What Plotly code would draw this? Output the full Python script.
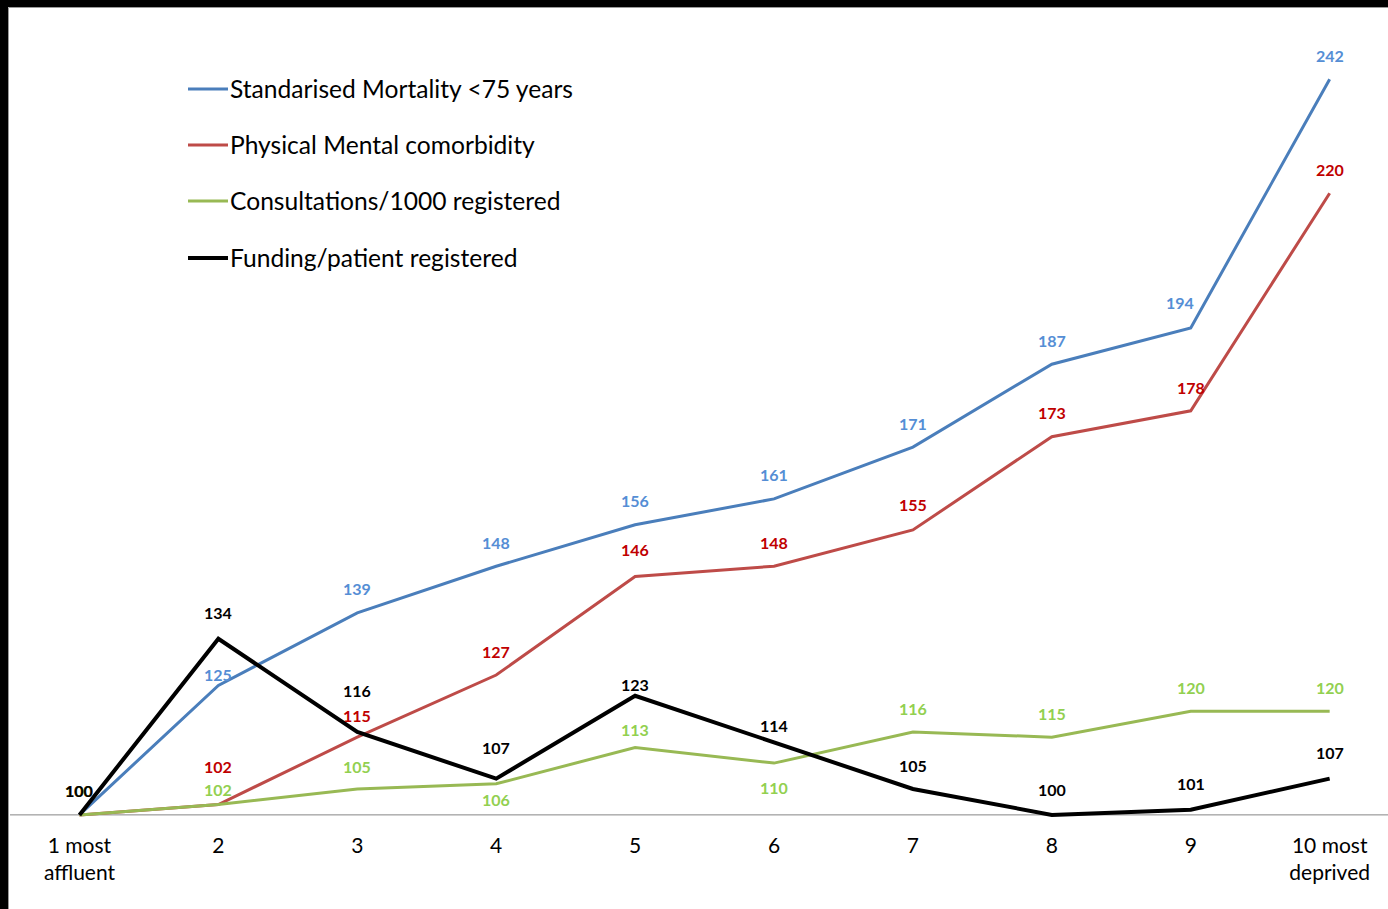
import plotly.graph_objects as go

# Deprivation deciles and index values (decile 1 = 100)
categories = ["1 most<br>affluent", "2", "3", "4", "5", "6", "7", "8", "9", "10 most<br>deprived"]
series_names = [
    "Standarised Mortality <75 years",
    "Physical Mental comorbidity",
    "Consultations/1000 registered",
    "Funding/patient registered",
]
mortality = [100, 125, 139, 148, 156, 161, 171, 187, 194, 242]
comorbidity = [100, 102, 115, 127, 146, 148, 155, 173, 178, 220]
consultations = [100, 102, 105, 106, 113, 110, 116, 115, 120, 120]
funding = [100, 134, 116, 107, 123, 114, 105, 100, 101, 107]

series_values = [mortality, comorbidity, consultations, funding]

# Styling
line_colors = ["#4A7EBB", "#BE4B48", "#98B954", "#000000"]
label_colors = ["#558ED5", "#C00000", "#92D050", "#000000"]
line_widths = [3, 3, 3, 4]
# pixel offsets of each value label from its point (vertical, horizontal)
label_shifts = [
    [24, 11, 24, 24, 24, 24, 24, 24, 25, 24],
    [24, 38, 22, 24, 27, 24, 25, 24, 23, 24],
    [24, 15, 22, -16, 18, -24, 24, 24, 24, 24],
    [24, 26, 42, 31, 11, 17, 23, 25, 26, 26],
]
label_xshifts = [
    [0, 0, 0, 0, 0, 0, 0, 0, -11, 0],
    [0] * 10,
    [0] * 10,
    [0] * 10,
]

FONT = "Lato, 'Open Sans', sans-serif"
W, H = 1388, 909
ML, MR, MT, MB = 10, 0, 15, 91
PLOT_W = W - ML - MR
PLOT_H = H - MT - MB


def px_x(px):
    return (px - ML) / PLOT_W


def px_y(py):
    return (H - MB - py) / PLOT_H


fig = go.Figure()

for name, vals, lc, lw in zip(series_names, series_values, line_colors, line_widths):
    fig.add_trace(go.Scatter(
        x=categories, y=vals, mode="lines", name=name,
        line=dict(color=lc, width=lw), showlegend=False,
    ))

annotations = []
for vals, col, shifts, xshifts in zip(series_values, label_colors, label_shifts, label_xshifts):
    # category axis: annotations are placed by category index
    for idx, (v, s, xs) in enumerate(zip(vals, shifts, xshifts)):
        annotations.append(dict(
            x=idx, y=v, xref="x", yref="y", text=f"<b>{v}</b>", showarrow=False,
            yshift=s, xshift=xs, font=dict(family=FONT, size=16, color=col),
        ))

# legend drawn as line samples with text
shapes = []
legend_rows = [89, 145, 201, 258]
for name, lc, lw, py in zip(series_names, line_colors, line_widths, legend_rows):
    shapes.append(dict(type="line", xref="paper", yref="paper",
                       x0=px_x(188), x1=px_x(228), y0=px_y(py), y1=px_y(py),
                       line=dict(color=lc, width=lw)))
    annotations.append(dict(x=px_x(229), y=px_y(py), xref="paper", yref="paper",
                            text=name, showarrow=False, xanchor="left", yanchor="middle",
                            yshift=0.5, xshift=-1,
                            font=dict(family=FONT, size=24.6, color="#000000")))

# horizontal category axis line at the base value
shapes.append(dict(type="line", xref="paper", yref="y", x0=0, x1=1, y0=100, y1=100,
                   line=dict(color="#868686", width=1), layer="below"))

# outer frame: heavy black edges on top and left with a thin grey inner line
shapes.append(dict(type="rect", xref="paper", yref="paper",
                   x0=px_x(-5), x1=px_x(W + 5), y0=px_y(7), y1=px_y(-5),
                   line=dict(width=0), fillcolor="#000000"))
shapes.append(dict(type="rect", xref="paper", yref="paper",
                   x0=px_x(-5), x1=px_x(8), y0=px_y(H + 5), y1=px_y(-5),
                   line=dict(width=0), fillcolor="#000000"))
shapes.append(dict(type="line", xref="paper", yref="paper",
                   x0=px_x(8.5), x1=px_x(W + 5), y0=px_y(7.5), y1=px_y(7.5),
                   line=dict(color="#9a9a9a", width=1)))
shapes.append(dict(type="line", xref="paper", yref="paper",
                   x0=px_x(8.5), x1=px_x(8.5), y0=px_y(7.5), y1=px_y(H + 5),
                   line=dict(color="#9a9a9a", width=1)))

fig.update_layout(
    width=W, height=H,
    margin=dict(l=ML, r=MR, t=MT, b=MB),
    paper_bgcolor="#ffffff", plot_bgcolor="#ffffff",
    showlegend=False,
    annotations=annotations,
    shapes=shapes,
    xaxis=dict(
        type="category", range=[-0.5, 9.42], showgrid=False, zeroline=False,
        showline=False, ticks="", ticklabelstandoff=13,
        tickfont=dict(family=FONT, size=21, color="#000000"),
    ),
    yaxis=dict(
        range=[99.4, 254.4], showgrid=False, zeroline=False, showline=False,
        showticklabels=False, ticks="",
    ),
)

fig.write_html("out.html")
